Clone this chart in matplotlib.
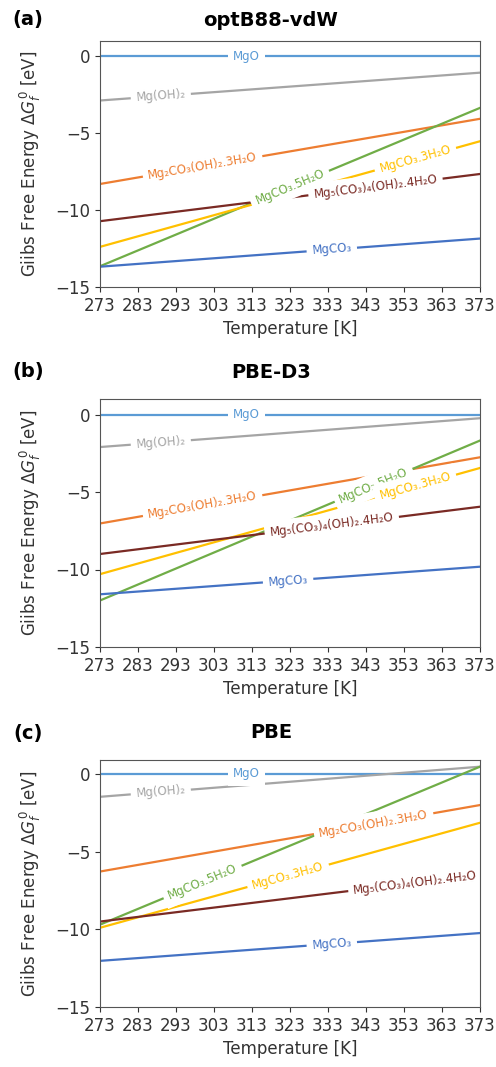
import numpy as np
import matplotlib

matplotlib.use("Agg")
import matplotlib.pyplot as plt

# end points of each free-energy line (T = 273 K and T = 373 K)
temps = [273, 373]
compounds = [
    "MgO",
    "Mg(OH)₂",
    "Mg₂CO₃(OH)₂.3H₂O",
    "MgCO₃.5H₂O",
    "MgCO₃.3H₂O",
    "Mg₅(CO₃)₄(OH)₂.4H₂O",
    "MgCO₃",
]
colors = ["#5b9bd5", "#a5a5a5", "#ed7d31", "#70ad47", "#ffc000", "#7a2a24", "#4472c4"]

panel_tags = ["(a)", "(b)", "(c)"]
panel_titles = ["optB88-vdW", "PBE-D3", "PBE"]

optb88_start = [0.0, -2.87, -8.30, -13.65, -12.39, -10.72, -13.68]
optb88_end = [0.0, -1.06, -4.06, -3.35, -5.52, -7.65, -11.85]
optb88_label_x = [311.6, 289, 300, 323, 356, 345.5, 334]

pbed3_start = [0.0, -2.10, -7.03, -12.00, -10.30, -9.00, -11.60]
pbed3_end = [0.0, -0.24, -2.76, -1.68, -3.45, -5.95, -9.82]
pbed3_label_x = [311.6, 289, 300, 345, 356, 334, 322.5]

pbe_start = [0.0, -1.47, -6.28, -9.70, -9.90, -9.50, -12.03]
pbe_end = [0.0, 0.47, -2.00, 0.47, -3.14, -6.50, -10.24]
pbe_label_x = [311.6, 289, 345, 300, 322.5, 356, 334]

xticks = list(range(273, 374, 10))
yticks = [0, -5, -10, -15]
ytops = [1.0, 1.0, 0.9]


def draw_panel(ax, starts, ends, label_xs, ytop):
    ax.set_xlim(temps[0], temps[1])
    ax.set_ylim(-15, ytop)
    for name, color, y0, y1, lx in zip(compounds, colors, starts, ends, label_xs):
        ax.plot(temps, [y0, y1], color=color, lw=1.6, zorder=2)
        ly = np.interp(lx, temps, [y0, y1])
        p0 = ax.transData.transform((temps[0], y0))
        p1 = ax.transData.transform((temps[1], y1))
        angle = np.degrees(np.arctan2(p1[1] - p0[1], p1[0] - p0[0]))
        # inline label, white box breaks the lines, kept under the spines
        ax.text(lx, ly, name, color=color, fontsize=8.5, rotation=angle,
                rotation_mode="anchor", ha="center", va="center", zorder=2.4,
                bbox=dict(boxstyle="square,pad=0.45", fc="white", ec="none"))
    ax.set_xticks(xticks)
    ax.set_yticks(yticks)
    ax.tick_params(labelsize=12, colors="#333333")
    for sp in ax.spines.values():
        sp.set_color("#555555")
    ax.set_xlabel("Temperature [K]", fontsize=12, color="#333333")
    ax.set_ylabel(r"Giibs Free Energy $\Delta G_f^0$ [eV]", fontsize=12, color="#333333")
    ax.yaxis.set_label_coords(-0.15, 0.5)


fig = plt.figure(figsize=(4.96, 10.67), dpi=100)
W, H = 496.0, 1067.0
# axes boxes in pixels: (top, bottom)
boxes = [(41, 287), (399, 647), (760, 1007)]
title_y = [20, 372, 733]
data = [
    (optb88_start, optb88_end, optb88_label_x),
    (pbed3_start, pbed3_end, pbed3_label_x),
    (pbe_start, pbe_end, pbe_label_x),
]

for i, (top, bottom) in enumerate(boxes):
    ax = fig.add_axes([100 / W, 1 - bottom / H, 380 / W, (bottom - top) / H])
    starts, ends, label_xs = data[i]
    draw_panel(ax, starts, ends, label_xs, ytops[i])
    fig.text(28 / W, 1 - title_y[i] / H, panel_tags[i], fontsize=14,
             fontweight="bold", ha="center", va="center")
    fig.text(271 / W, 1 - title_y[i] / H, panel_titles[i], fontsize=14,
             fontweight="bold", ha="center", va="center")

fig.savefig("out.png", dpi=100)
